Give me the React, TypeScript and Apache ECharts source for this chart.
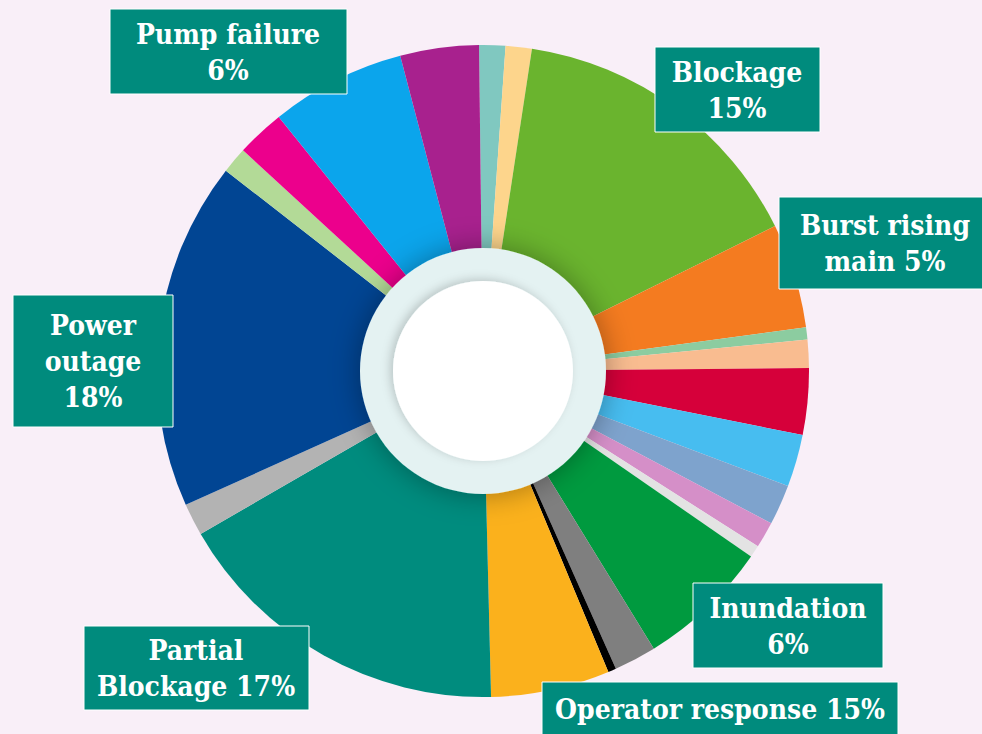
import React, { useEffect, useRef } from "react";
import * as echarts from "echarts";

// ---- Data ----
const categories = [
  "Slice A", "Slice B", "Blockage", "Burst rising main", "Slice C", "Slice D",
  "Slice E", "Slice F", "Slice G", "Slice H", "Slice I", "Inundation",
  "Slice J", "Slice K", "Operator response", "Partial Blockage", "Slice L",
  "Power outage", "Slice M", "Slice N", "Pump failure", "Slice O",
];
const values = [
  1.3, 1.3, 15.3, 5.2, 0.6, 1.4, 3.3, 2.6, 2.0, 1.3, 0.6, 6.6,
  2.1, 0.4, 5.9, 17.1, 1.6, 17.3, 1.3, 2.4, 6.7, 3.9,
];
const colors = [
  "#80c8c0", "#fdd58c", "#6ab42e", "#f47b20", "#8ccca0", "#f9bc90",
  "#d6003a", "#47bdf0", "#7ea3cd", "#d58fc8", "#e3e3e3", "#009a3f",
  "#7f7f7f", "#000000", "#fbb11c", "#008c7e", "#b3b3b3", "#014593",
  "#b3da97", "#ec008c", "#0ba5ec", "#a8218e",
];
const labelTexts = [
  "Pump failure\n6%",
  "Blockage\n15%",
  "Burst rising\nmain 5%",
  "Power\noutage\n18%",
  "Inundation\n6%",
  "Operator response 15%",
  "Partial\nBlockage 17%",
];

// ---- Layout (not data) ----
const CX = 483;
const CY = 371;
const labelBoxes = [
  { x: 110, y: 9, w: 237, h: 85 },
  { x: 655, y: 47, w: 165, h: 85 },
  { x: 779, y: 197, w: 215, h: 92 },
  { x: 13, y: 295, w: 160, h: 132 },
  { x: 693, y: 583, w: 190, h: 85 },
  { x: 542, y: 682, w: 356, h: 70 },
  { x: 84, y: 626, w: 225, h: 84 },
];
const textCenters = [
  { x: 228, y: 52 },
  { x: 737, y: 90 },
  { x: 885, y: 243 },
  { x: 93, y: 361 },
  { x: 788, y: 626 },
  { x: 720, y: 709 },
  { x: 196, y: 668 },
];

export default function App() {
  const ref = useRef<HTMLDivElement>(null);

  useEffect(() => {
    document.body.style.margin = "0";
    if (!ref.current) return;
    const chart = echarts.init(ref.current, null, { renderer: "svg" });

    const graphics: any[] = labelTexts.map((t, i) => ({
      type: "group",
      silent: true,
      z: 100,
      children: [
        {
          type: "rect",
          z: 100,
          shape: { x: labelBoxes[i].x, y: labelBoxes[i].y, width: labelBoxes[i].w, height: labelBoxes[i].h },
          style: { fill: "#008b7d", stroke: "#ffffff", lineWidth: 1 },
        },
        {
          type: "text",
          z: 101,
          x: textCenters[i].x,
          y: textCenters[i].y,
          style: {
            text: t,
            fill: "#ffffff",
            fontFamily: "'DejaVu Serif Condensed', 'DejaVu Serif'",
            fontWeight: "bold",
            fontSize: 28,
            lineHeight: 36,
            align: "center",
            verticalAlign: "middle",
          },
        },
      ],
    }));

    chart.setOption({
      animation: false,
      backgroundColor: "#f9eff8",
      graphic: { z: 100, elements: graphics },
      series: [
        {
          type: "pie",
          silent: true,
          center: [CX, CY],
          radius: [0, 326],
          startAngle: 90.7,
          clockwise: true,
          minAngle: 0,
          avoidLabelOverlap: false,
          label: { show: false },
          labelLine: { show: false },
          emphasis: { disabled: true },
          data: categories.map((c, i) => ({
            name: c,
            value: values[i],
            itemStyle: { color: colors[i] },
          })),
        },
        {
          type: "pie",
          silent: true,
          center: [CX, CY],
          radius: [0, 123],
          z: 3,
          label: { show: false },
          labelLine: { show: false },
          emphasis: { disabled: true },
          data: [
            {
              name: "ring",
              value: 1,
              itemStyle: {
                color: "#e4f2f2",
                shadowBlur: 30,
                shadowColor: "rgba(0,0,0,0.35)",
              },
            },
          ],
        },
        {
          type: "pie",
          silent: true,
          center: [CX, CY],
          radius: [0, 90],
          z: 4,
          label: { show: false },
          labelLine: { show: false },
          emphasis: { disabled: true },
          data: [
            {
              name: "hole",
              value: 1,
              itemStyle: {
                color: "#ffffff",
                shadowBlur: 10,
                shadowOffsetX: -3,
                shadowOffsetY: -2,
                shadowColor: "rgba(0,0,0,0.18)",
              },
            },
          ],
        },
      ],
    });

    return () => chart.dispose();
  }, []);

  return <div ref={ref} style={{ width: 982, height: 734 }} />;
}
